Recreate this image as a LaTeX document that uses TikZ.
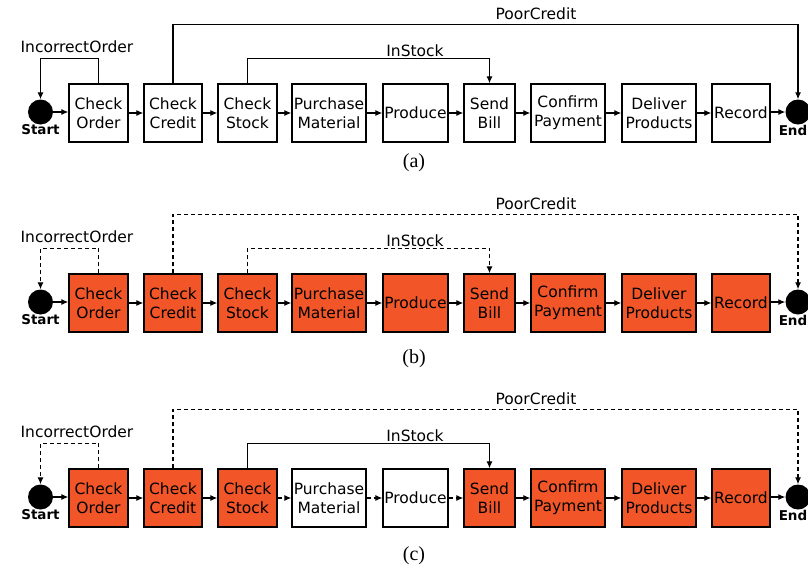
\documentclass[tikz,border=0pt]{standalone}
\usepackage{fontspec}
\setmainfont{DejaVu Sans}
\newfontfamily\capfont{Liberation Serif}
\usetikzlibrary{arrows.meta}
\definecolor{actorange}{RGB}{242,86,40}
\tikzset{
  act/.style={draw=black,line width=1.3pt,minimum height=58pt,inner sep=0pt,align=center,
    font=\fontsize{15.5}{19}\selectfont},
  dot/.style={circle,fill=black,draw=none,minimum size=25pt,inner sep=0pt},
  term/.style={font=\fontsize{13.5}{15}\selectfont\bfseries,inner sep=0pt},
  lbl/.style={font=\fontsize{15.5}{19}\selectfont,inner sep=0pt},
  caplbl/.style={font=\capfont\fontsize{20}{22}\selectfont,inner sep=0pt},
  flow/.style={draw=black,line width=1.2pt,-{Latex[length=7pt,width=6pt]}},
  dsh/.style={dash pattern=on 4pt off 3pt},
}
\newcommand\DrawRow[9]{%
  \node[dot] (#1st) at (40.5,{#2+28}) {};
  \node[term] (#1stl) at (40.5,{#2+46}) {Start};
  \node[dot] (#1en) at (798,{#2+28}) {};
  \node[term] (#1enl) at (793,{#2+46}) {End};
  \node[act,fill=#3,minimum width=59pt] (#1co) at (98.5,{#2+29}) {Check\\Order};
  \node[act,fill=#3,minimum width=58pt] (#1cc) at (173,{#2+29}) {Check\\Credit};
  \node[act,fill=#3,minimum width=59pt] (#1cs) at (247.5,{#2+29}) {Check\\Stock};
  \node[act,fill=#4,minimum width=74pt] (#1pm) at (329,{#2+29}) {Purchase\\Material};
  \node[act,fill=#4,minimum width=65pt] (#1pr) at (415.5,{#2+29}) {Produce};
  \node[act,fill=#3,minimum width=51pt] (#1sb) at (489.5,{#2+29}) {Send\\Bill};
  \node[act,fill=#3,minimum width=74pt] (#1cp) at (568,{#2+29}) {Confirm\\Payment};
  \node[act,fill=#3,minimum width=74pt] (#1dp) at (659,{#2+29}) {Deliver\\Products};
  \node[act,fill=#3,minimum width=58pt] (#1re) at (741,{#2+29}) {Record};
  \draw[flow] (#1st.east) -- (#1st.east -| #1co.west);
  \draw[flow] (#1co) -- (#1cc);
  \draw[flow] (#1cc) -- (#1cs);
  \draw[flow,#7] (#1cs) -- (#1pm);
  \draw[flow,#7] (#1pm) -- (#1pr);
  \draw[flow,#7] (#1pr) -- (#1sb);
  \draw[flow] (#1sb) -- (#1cp);
  \draw[flow] (#1cp) -- (#1dp);
  \draw[flow] (#1dp) -- (#1re);
  \draw[flow] (#1en.west -| #1re.east) -- (#1en.west);
  \draw[flow,#5] (#1co.north) -- ++(0,-25) -| (#1st.north);
  \draw[flow,#5] (#1cc.north) -- ++(0,-59) -| (#1en.north);
  \draw[flow,#6] (#1cs.north) -- ++(0,-25) -| (#1sb.north);
  \node[lbl] (#1io) at (77,{#2-37}) {IncorrectOrder};
  \node[lbl] (#1pc) at (536,{#2-70}) {PoorCredit};
  \node[lbl] (#1is) at (415,{#2-33}) {InStock};
  \node[caplbl] (#1cap) at (414,#8) {#9};
}
\begin{document}
\begin{tikzpicture}[x=1pt,y=-1pt]
  \useasboundingbox (0,0) rectangle (808,571);
  \DrawRow{a}{84}{white}{white}{solid}{solid}{solid}{163}{(a)}
  \DrawRow{b}{274}{actorange}{actorange}{dsh}{dsh}{solid}{359}{(b)}
  \DrawRow{c}{469}{actorange}{white}{dsh}{solid}{dsh}{556}{(c)}
\end{tikzpicture}
\end{document}
